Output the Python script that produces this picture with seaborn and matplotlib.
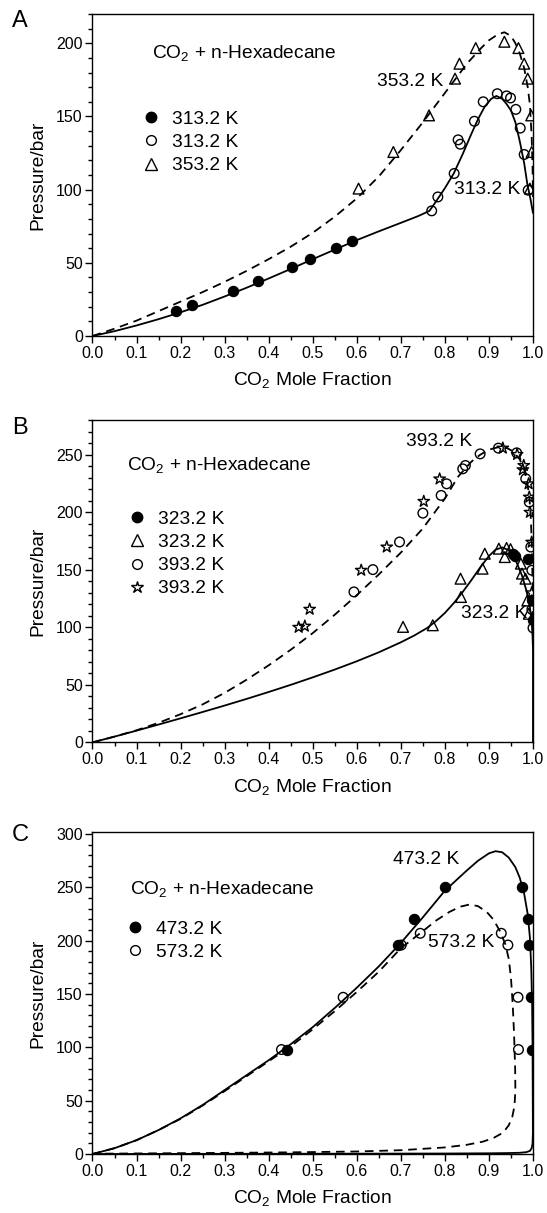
import numpy as np
import pandas as pd
import matplotlib
matplotlib.use("Agg")
import matplotlib.pyplot as plt
import seaborn as sns
from matplotlib.lines import Line2D
from matplotlib.ticker import MultipleLocator, FormatStrFormatter

sns.set_theme(style="ticks")
plt.rcParams['font.family'] = ['Liberation Sans', 'DejaVu Sans']
plt.rcParams['mathtext.default'] = 'regular'
for k in ['text.color', 'axes.labelcolor', 'xtick.color', 'ytick.color', 'axes.edgecolor']:
    plt.rcParams[k] = 'black'

# ---------------- Panel A data ----------------
a_x_filled_313 = [0.190, 0.227, 0.318, 0.376, 0.454, 0.494, 0.553, 0.588]
a_p_filled_313 = [17.0, 21.1, 30.7, 37.5, 47.3, 52.5, 60.3, 65.0]
a_x_open_313 = [0.770, 0.784, 0.821, 0.830, 0.835, 0.867, 0.887, 0.919, 0.940, 0.949, 0.961, 0.971, 0.980, 0.989]
a_p_open_313 = [85.5, 95.0, 111.0, 134.0, 131.0, 146.7, 160.0, 165.5, 164.0, 162.6, 154.8, 142.0, 124.0, 99.6]
a_x_tri_353 = [0.604, 0.683, 0.764, 0.823, 0.833, 0.870, 0.935, 0.967, 0.980, 0.988, 0.996, 0.997, 0.993]
a_p_tri_353 = [100.7, 125.7, 150.7, 175.8, 186.0, 196.7, 201.0, 196.7, 186.0, 175.8, 150.7, 125.7, 100.7]
a_line_313_x = [0, 0.05, 0.1, 0.15, 0.2, 0.25, 0.3, 0.35, 0.4, 0.45, 0.5, 0.55, 0.6, 0.65, 0.7,
                0.74, 0.765, 0.78, 0.8, 0.82, 0.84, 0.86, 0.875, 0.89, 0.905, 0.917, 0.93, 0.94,
                0.95, 0.96, 0.97, 0.98, 0.987, 0.994, 1.0]
a_line_313_p = [0, 3.3, 7.2, 11.5, 16.2, 21.3, 27, 33, 39.3, 45.8, 52.5, 59, 65.5, 71.5, 77.3,
                82, 85.5, 92, 101, 111, 124, 138, 148, 156.5, 162, 164, 162, 158.5,
                154, 146, 133, 118, 104, 94, 84]
a_line_353_x = [0, 0.05, 0.1, 0.15, 0.2, 0.25, 0.3, 0.35, 0.4, 0.45, 0.5, 0.55, 0.6, 0.65, 0.7,
                0.75, 0.8, 0.85, 0.88, 0.9, 0.92, 0.935, 0.95, 0.96, 0.97, 0.98, 0.988, 0.993,
                0.997, 0.999, 1.0]
a_line_353_p = [0, 5, 10.5, 17, 23.5, 30, 37, 44.5, 52.5, 61, 70.5, 81.5, 94, 109, 127,
                146, 166, 186, 196, 202, 206, 207.5, 205, 200, 193, 183, 170, 158,
                136, 115, 95]

# ---------------- Panel B data ----------------
b_x_filled_323 = [0.955, 0.960, 0.989, 0.9975, 1.0]
b_p_filled_323 = [164, 162, 159.7, 123.5, 106]
b_x_tri_323 = [0.705, 0.7725, 0.8365, 0.8355, 0.8855, 0.8905, 0.9225, 0.936, 0.94, 0.949,
               0.9725, 0.975, 0.983, 0.987, 0.9905]
b_p_tri_323 = [100.4, 101.8, 126.4, 142.3, 151, 164, 168.4, 161.1, 169, 168,
               155.4, 146.7, 142.3, 123.3, 111.8]
b_x_open_393 = [0.5935, 0.6365, 0.697, 0.750, 0.7915, 0.804, 0.8405, 0.8465, 0.880, 0.9215,
                0.963, 0.9835, 0.9915, 0.995, 0.9975, 0.9975, 1.0]
b_p_open_393 = [130.8, 150.2, 174.2, 199.3, 214.7, 224.8, 237.8, 240.7, 250.8, 255.8,
                251.7, 229.2, 208.9, 169.8, 149.6, 115.6, 99.5]
b_x_star_393 = [0.468, 0.482, 0.493, 0.610, 0.668, 0.752, 0.788, 0.9315, 0.964, 0.977,
                0.979, 0.990, 0.9915, 0.993, 0.997, 0.997]
b_p_star_393 = [100, 101, 115.7, 149.6, 169.8, 209.5, 229, 255.8, 250.3, 237,
                240.7, 224.8, 213.2, 200, 174, 130]
b_line_323_x = [0, 0.05, 0.1, 0.15, 0.2, 0.25, 0.3, 0.35, 0.4, 0.45, 0.5, 0.55, 0.6, 0.65, 0.7,
                0.73, 0.76, 0.78, 0.8, 0.82, 0.84, 0.86, 0.88, 0.9, 0.915, 0.93, 0.945, 0.96,
                0.975, 0.985, 0.992, 0.997, 0.999, 1.0, 1.0]
b_line_323_p = [0, 5, 10.2, 15.5, 20.9, 26.4, 32, 37.8, 43.8, 50, 56.5, 63.3, 70.5, 78.3, 87,
                92.8, 99.5, 105.5, 112.5, 121, 130.5, 141, 152, 162, 167.5, 169.5, 167, 159,
                145, 132, 120, 105, 92, 80, 0]
b_line_393_x = [0, 0.05, 0.1, 0.15, 0.2, 0.25, 0.3, 0.35, 0.4, 0.45, 0.5, 0.55, 0.6, 0.65, 0.7,
                0.75, 0.8, 0.83, 0.86, 0.88, 0.9, 0.92, 0.94, 0.955, 0.97, 0.98, 0.987, 0.992,
                0.995, 0.997, 0.999, 1.0]
b_line_393_p = [0, 5, 10.5, 17, 24.5, 33, 43, 54.5, 67, 80.5, 95, 111, 128, 146, 165,
                186, 212, 231, 244, 250, 254.5, 256.5, 256, 253, 246, 237, 226, 212,
                195, 175, 140, 100]

# ---------------- Panel C data ----------------
c_x_filled_473 = [0.4425, 0.6935, 0.729, 0.801, 0.9755, 0.988, 0.992, 0.996, 0.997]
c_p_filled_473 = [98, 196, 220, 250, 250, 220, 196, 147, 98]
c_x_open_573 = [0.429, 0.569, 0.701, 0.744, 0.928, 0.943, 0.966, 0.967]
c_p_open_573 = [98, 147, 196, 207, 207, 196, 147, 98]
c_line_473_x = [0, 0.05, 0.1, 0.15, 0.2, 0.25, 0.3, 0.35, 0.4, 0.45, 0.5, 0.55, 0.6, 0.65, 0.7,
                0.75, 0.8, 0.85, 0.875, 0.9, 0.915, 0.93, 0.945, 0.96, 0.97, 0.98, 0.988, 0.993,
                0.996, 0.998, 0.999, 0.9995, 0.9998, 0.999, 0.997, 0.993, 0.985, 0.97, 0.94,
                0.9, 0.8, 0.6, 0.4, 0.2, 0.0]
c_line_473_p = [0, 5.5, 13, 22.5, 33.5, 46, 60, 74, 88, 103, 119, 137, 156, 176, 198,
                222, 247, 266, 275, 282, 284, 283, 278, 269, 259, 244, 225, 203,
                175, 140, 100, 50, 20, 10, 5.5, 3, 1.8, 1.2, 0.9,
                0.7, 0.5, 0.35, 0.25, 0.15, 0.0]
c_line_573_x = [0, 0.05, 0.1, 0.15, 0.2, 0.25, 0.3, 0.35, 0.4, 0.45, 0.5, 0.55, 0.6, 0.65, 0.7,
                0.75, 0.78, 0.81, 0.835, 0.856, 0.875, 0.895, 0.91, 0.925, 0.937, 0.945, 0.95,
                0.954, 0.957, 0.9595, 0.96, 0.958, 0.953, 0.945, 0.932, 0.91, 0.886, 0.85,
                0.8, 0.7, 0.6, 0.45, 0.3, 0.15, 0.0]
c_line_573_p = [0, 5.5, 13, 22.5, 33, 45.5, 59, 73, 87, 101, 117, 134, 152, 171, 193,
                209, 219, 227, 232, 234, 232.5, 227, 220, 209, 197, 183, 165,
                140, 113, 80, 60, 45, 35, 27, 20, 15, 11.6, 8.7,
                6.2, 3.6, 2.4, 1.6, 1.1, 0.7, 0.3]

LBL_FS = 13.8
TICK_FS = 11.5
TXT_FS = 13.8
DASH = (0, (4.8, 3.2))
LW = 1.3

fig = plt.figure(figsize=(5.47, 12.13), dpi=100)
L, W, H = 0.1691, 0.8053, 0.2655
axA = fig.add_axes([L, 0.7230, W, H])
axB = fig.add_axes([L, 0.3880, W, H])
axC = fig.add_axes([L, 0.0486, W, H])


def style_axis(ax, ymax):
    ax.set_xlim(0, 1.0)
    ax.set_ylim(0, ymax)
    ax.xaxis.set_major_locator(MultipleLocator(0.1))
    ax.xaxis.set_minor_locator(MultipleLocator(0.05))
    ax.yaxis.set_major_locator(MultipleLocator(50))
    ax.yaxis.set_minor_locator(MultipleLocator(10))
    ax.xaxis.set_major_formatter(FormatStrFormatter('%.1f'))
    ax.tick_params(which='major', direction='out', length=5, width=1, labelsize=TICK_FS,
                   colors='black', pad=2)
    ax.tick_params(which='minor', direction='out', length=3, width=1, colors='black')
    ax.tick_params(top=False, right=False, which='both')
    for s in ax.spines.values():
        s.set_linewidth(1.0)
        s.set_color('black')
        s.set_visible(True)
    ax.set_xlabel('CO$_2$ Mole Fraction', fontsize=LBL_FS, labelpad=7, color='black')
    ax.set_ylabel('Pressure/bar', fontsize=LBL_FS, labelpad=7, color='black')
    ax.set_facecolor('white')


def line(ax, xs, ps, dashed=False):
    kw = dict(linestyle=DASH) if dashed else {}
    sns.lineplot(x=xs, y=ps, sort=False, estimator=None, color='black', linewidth=LW,
                 ax=ax, legend=False, **kw)


def pts(ax, xs, ps, marker, filled, s):
    if filled:
        sns.scatterplot(x=xs, y=ps, marker=marker, s=s, color='black', edgecolor='black',
                        linewidth=0.8, ax=ax, legend=False, zorder=3)
    else:
        sns.scatterplot(x=xs, y=ps, marker=marker, s=s, facecolor='none', edgecolor='black',
                        linewidth=1.0, ax=ax, legend=False, zorder=3)


def handle(marker, filled, ms):
    return Line2D([], [], linestyle='none', marker=marker, markersize=ms,
                  markerfacecolor='black' if filled else 'none', markeredgecolor='black',
                  markeredgewidth=1.0)


LEG = dict(loc='upper left', frameon=False, fontsize=TXT_FS, handlelength=1.0,
           handletextpad=0.6, labelspacing=0.3, borderpad=0, borderaxespad=0)

# ---- Panel A ----
line(axA, a_line_313_x, a_line_313_p)
line(axA, a_line_353_x, a_line_353_p, dashed=True)
pts(axA, a_x_filled_313, a_p_filled_313, 'o', True, 55)
pts(axA, a_x_open_313, a_p_open_313, 'o', False, 48)
pts(axA, a_x_tri_353, a_p_tri_353, '^', False, 60)
style_axis(axA, 220)
axA.text(0.134, 193, 'CO$_2$ + n-Hexadecane', fontsize=TXT_FS, va='center', ha='left')
axA.text(0.645, 174, '353.2 K', fontsize=TXT_FS, va='center', ha='left')
axA.text(0.821, 100, '313.2 K', fontsize=TXT_FS, va='center', ha='left')
axA.legend([handle('o', True, 7.5), handle('o', False, 7), handle('^', False, 8)],
           ['313.2 K', '313.2 K', '353.2 K'], bbox_to_anchor=(0.11, 0.70), **LEG)

# ---- Panel B ----
line(axB, b_line_323_x, b_line_323_p)
line(axB, b_line_393_x, b_line_393_p, dashed=True)
pts(axB, b_x_filled_323, b_p_filled_323, 'o', True, 55)
pts(axB, b_x_tri_323, b_p_tri_323, '^', False, 60)
pts(axB, b_x_open_393, b_p_open_393, 'o', False, 48)
pts(axB, b_x_star_393, b_p_star_393, '*', False, 75)
style_axis(axB, 280)
axB.text(0.0775, 241, 'CO$_2$ + n-Hexadecane', fontsize=TXT_FS, va='center', ha='left')
axB.text(0.7125, 262, '393.2 K', fontsize=TXT_FS, va='center', ha='left')
axB.text(0.8355, 112, '323.2 K', fontsize=TXT_FS, va='center', ha='left')
axB.legend([handle('o', True, 7.5), handle('^', False, 8), handle('o', False, 7),
            handle('*', False, 9)],
           ['323.2 K', '323.2 K', '393.2 K', '393.2 K'], bbox_to_anchor=(0.08, 0.72), **LEG)

# ---- Panel C ----
line(axC, c_line_473_x, c_line_473_p)
line(axC, c_line_573_x, c_line_573_p, dashed=True)
pts(axC, c_x_filled_473, c_p_filled_473, 'o', True, 55)
pts(axC, c_x_open_573, c_p_open_573, 'o', False, 48)
style_axis(axC, 302)
axC.text(0.085, 249, 'CO$_2$ + n-Hexadecane', fontsize=TXT_FS, va='center', ha='left')
axC.text(0.682, 276, '473.2 K', fontsize=TXT_FS, va='center', ha='left')
axC.text(0.7615, 198, '573.2 K', fontsize=TXT_FS, va='center', ha='left')
axC.legend([handle('o', True, 7.5), handle('o', False, 7)],
           ['473.2 K', '573.2 K'], bbox_to_anchor=(0.075, 0.726), **LEG)

for lab, yy in [('A', 0.983), ('B', 0.647), ('C', 0.312)]:
    fig.text(0.022, yy, lab, fontsize=17, ha='left', va='center', color='black')

fig.savefig('out.png', dpi=100, facecolor='white')
